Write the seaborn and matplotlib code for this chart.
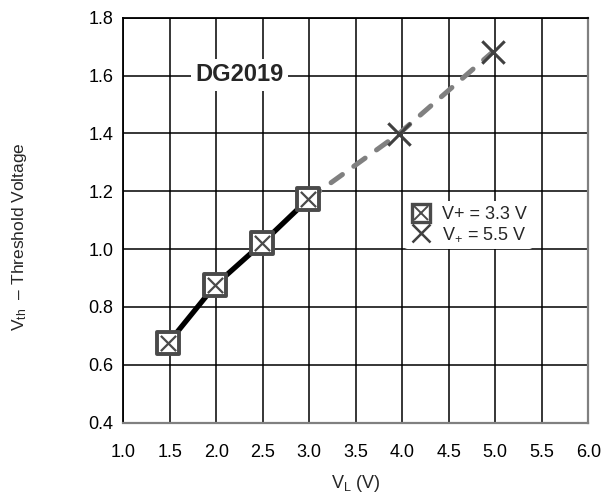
import matplotlib
matplotlib.use("Agg")
import matplotlib.pyplot as plt
import seaborn as sns
import pandas as pd
from matplotlib.lines import Line2D
from matplotlib.legend_handler import HandlerTuple

sns.set_theme(style="white")
plt.rcParams['font.family'] = ['Liberation Sans', 'DejaVu Sans']
plt.rcParams['mathtext.fontset'] = 'custom'
plt.rcParams['mathtext.rm'] = 'Liberation Sans'
plt.rcParams['mathtext.it'] = 'Liberation Sans'
plt.rcParams['mathtext.bf'] = 'Liberation Sans:bold'

# data
vl_33 = [1.48, 1.99, 2.495, 2.99]
vth_33 = [0.674, 0.876, 1.021, 1.173]
vl_55 = [2.99, 3.96, 4.97]
vth_55 = [1.173, 1.398, 1.681]
x_ticks = [1.0, 1.5, 2.0, 2.5, 3.0, 3.5, 4.0, 4.5, 5.0, 5.5, 6.0]
y_ticks = [0.4, 0.6, 0.8, 1.0, 1.2, 1.4, 1.6, 1.8]

df33 = pd.DataFrame({"VL": vl_33, "Vth": vth_33})
df55 = pd.DataFrame({"VL": vl_55, "Vth": vth_55})

fig = plt.figure(figsize=(6.05, 4.96), dpi=100)
ax = fig.add_axes([0.2038, 0.1478, 0.7686, 0.8165])

sns.lineplot(data=df55, x="VL", y="Vth", ax=ax, color="#808080", lw=3.6,
             dashes=False, linestyle=(0, (2.8, 2.8)), dash_capstyle='round', zorder=3)
sns.lineplot(data=df33, x="VL", y="Vth", ax=ax, color="black", lw=3.8, zorder=4)
sns.scatterplot(data=df55.iloc[1:], x="VL", y="Vth", ax=ax, marker="x", s=260,
                color="#404040", linewidth=2.2, zorder=5)
sns.scatterplot(data=df33, x="VL", y="Vth", ax=ax, marker="s", s=230,
                facecolor="white", edgecolor="#4a4a4a", linewidth=2.8, zorder=6)
sns.scatterplot(data=df33, x="VL", y="Vth", ax=ax, marker="x", s=120,
                color="#4a4a4a", linewidth=1.6, zorder=7)

ax.set_xlim(1.0, 6.0)
ax.set_ylim(0.4, 1.8)
ax.set_xticks(x_ticks)
ax.set_yticks(y_ticks)
ax.set_xticklabels([f"{v:.1f}" for v in x_ticks])
ax.set_yticklabels([f"{v:.1f}" for v in y_ticks])
ax.tick_params(length=0, labelsize=13, colors="black")
ax.tick_params(axis="x", pad=15)
ax.tick_params(axis="y", pad=7)
ax.grid(True, color="black", lw=1.1)
ax.set_axisbelow(True)
for s in ["top", "left"]:
    ax.spines[s].set_color("black")
    ax.spines[s].set_linewidth(1.3)
for s in ["bottom", "right"]:
    ax.spines[s].set_color("#808080")
    ax.spines[s].set_linewidth(1.6)

ax.set_xlabel("V$_{\\mathrm{L}}$ (V)", fontsize=13, labelpad=9)
ax.set_ylabel("")
fig.text(20 / 605, 1 - 237 / 496, "V$_{\\mathrm{th}}$  – Threshold Voltage",
         rotation=90, ha="center", va="center", fontsize=12.5)

ax.text(2.247, 1.602, "DG2019", fontsize=17, fontweight="bold", ha="center", va="center",
        bbox=dict(facecolor="white", edgecolor="none", pad=3), zorder=8)

h_sq = (Line2D([], [], marker="s", ms=13, mfc="white", mec="#4a4a4a", mew=2.4, ls="none"),
        Line2D([], [], marker="x", ms=10, color="#4a4a4a", mew=1.4, ls="none"))
h_x = Line2D([], [], marker="x", ms=13, color="#404040", mew=1.8, ls="none")
leg = ax.legend([h_sq, h_x], ["V+ = 3.3 V", "V$_{+}$ = 5.5 V"],
                handler_map={tuple: HandlerTuple(ndivide=1, pad=0)},
                loc="upper left", bbox_to_anchor=(0.585, 0.57), frameon=True,
                facecolor="white", edgecolor="none", framealpha=1, fontsize=13,
                handlelength=1.2, handletextpad=0.6, borderpad=0.3, labelspacing=0.1)
leg.set_zorder(9)

fig.text(354 / 605, 1.0 + 4 / 496, "V$_{\\mathbf{IN}}$ vs V$_{\\mathbf{L}}$ (Typ)", ha="center",
         va="baseline", fontsize=14, fontweight="bold")

fig.savefig("out.png", dpi=100)
